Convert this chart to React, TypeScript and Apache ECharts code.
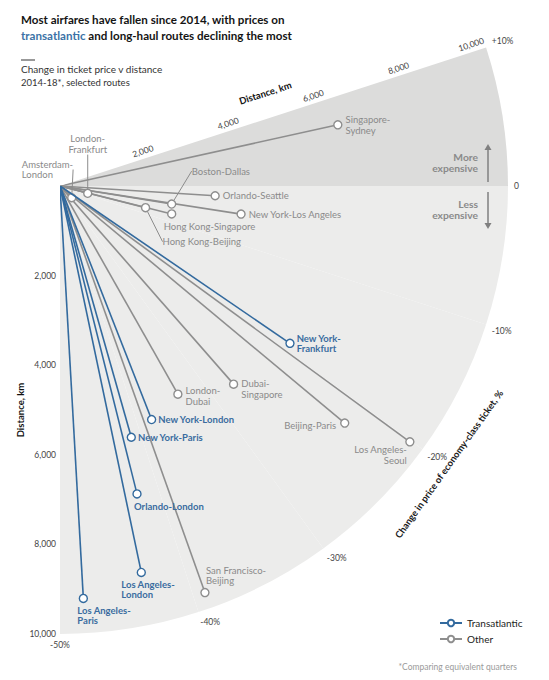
import React, { useEffect, useRef } from 'react';
import * as echarts from 'echarts';

// ---------- data ----------
const routeNames = [
  'Amsterdam-London', 'London-Frankfurt', 'Hong Kong-Beijing', 'Boston-Dallas',
  'Hong Kong-Singapore', 'Orlando-Seattle', 'New York-Los Angeles', 'Singapore-Sydney',
  'London-Dubai', 'Dubai-Singapore', 'New York-Frankfurt', 'New York-London',
  'New York-Paris', 'Orlando-London', 'Beijing-Paris', 'Los Angeles-London',
  'Los Angeles-Paris', 'San Francisco-Beijing', 'Los Angeles-Seoul',
];
const routeGroups = [
  'Other', 'Other', 'Other', 'Other',
  'Other', 'Other', 'Other', 'Other',
  'Other', 'Other', 'Transatlantic', 'Transatlantic',
  'Transatlantic', 'Transatlantic', 'Other', 'Transatlantic',
  'Transatlantic', 'Other', 'Other',
];
const distanceKm = [
  370, 640, 1970, 2525,
  2570, 3470, 4090, 6350,
  5340, 5880, 6220, 5600,
  5830, 7085, 8270, 8815,
  9220, 9635, 9675,
];
const priceChangePct = [
  -25, -8.2, -7.9, -5.1,
  -7.8, -2.0, -4.9, 6.9,
  -33.6, -27.1, -19.1, -38.1,
  -41.2, -42.2, -22.1, -43.4,
  -48.2, -39.1, -20.1,
];
const routeLabels = [
  'Amsterdam-\nLondon', 'London-\nFrankfurt', 'Hong Kong-Beijing', 'Boston-Dallas',
  'Hong Kong-Singapore', 'Orlando-Seattle', 'New York-Los Angeles', 'Singapore-\nSydney',
  'London-\nDubai', 'Dubai-\nSingapore', 'New York-\nFrankfurt', 'New York-London',
  'New York-Paris', 'Orlando-London', 'Beijing-Paris', 'Los Angeles-\nLondon',
  'Los Angeles-\nParis', 'San Francisco-\nBeijing', 'Los Angeles-\nSeoul',
];
const pctTicks = [-50, -40, -30, -20, -10, 0, 10];
const distanceTicks = [0, 2000, 4000, 6000, 8000, 10000];
const distanceGridStep = 1000;
const legendNames = ['Transatlantic', 'Other'];

// ---------- styles ----------
const FONT = 'Lato, sans-serif';
const BLUE = '#336a9e';
const BLUE_TEXT = '#3a6ca0';
const GREY = '#8e8e8e';
const GREY_TEXT = '#8a8a8a';
const CENTER = [60, 186];
const RADIUS = 448;

const fmtKm = (v: number) => (v === 0 ? '' : String(v).replace(/\B(?=(\d{3})+(?!\d))/g, ','));
const fmtPct = (v: number) => (v > 0 ? `+${v}%` : v === 0 ? '0' : `${v}%`);

// label placement per route (styling only)
const placement: Record<string, any> = {
  'Amsterdam-London': { label: { position: 'top', align: 'left', verticalAlign: 'bottom', distance: 0 }, layout: { dx: -50, dy: -13 }, line: true },
  'London-Frankfurt': { label: { position: 'top', align: 'center', distance: 5 }, layout: { dx: 0, dy: -29 }, line: true },
  'Hong Kong-Beijing': { label: { position: 'bottom', align: 'left', distance: 5 }, layout: { dx: 17, dy: 19 }, line: true },
  'Boston-Dallas': { label: { position: 'top', align: 'left', distance: 5 }, layout: { dx: 20, dy: -18 }, line: true },
  'Hong Kong-Singapore': { label: { position: 'bottom', align: 'left', distance: 3, offset: [-8, 0] } },
  'Orlando-Seattle': { label: { position: 'right', distance: 3 } },
  'New York-Los Angeles': { label: { position: 'right', distance: 3 } },
  'Singapore-Sydney': { label: { position: 'right', distance: 3 } },
  'London-Dubai': { label: { position: 'right', distance: 3, offset: [0, 2] } },
  'Dubai-Singapore': { label: { position: 'right', distance: 3, offset: [0, 5] } },
  'New York-Frankfurt': { label: { position: 'right', distance: 2 } },
  'New York-London': { label: { position: 'right', distance: 2 } },
  'New York-Paris': { label: { position: 'right', distance: 2 } },
  'Orlando-London': { label: { position: 'bottom', align: 'left', distance: 3, offset: [-3, 0] } },
  'Beijing-Paris': { label: { position: 'left', distance: 4, offset: [0, 2] } },
  'Los Angeles-London': { label: { position: 'bottom', align: 'left', distance: 2, offset: [-20, 0] } },
  'Los Angeles-Paris': { label: { position: 'bottom', align: 'left', distance: 2, offset: [-6, 0] } },
  'San Francisco-Beijing': { label: { position: 'top', align: 'left', distance: 2, offset: [1, 0] } },
  'Los Angeles-Seoul': { label: { position: 'bottom', align: 'right', distance: -2, offset: [-3, 0] } },
};

function buildOption() {
  const series = routeNames.map((name, i) => {
    const group = routeGroups[i];
    const isT = group === 'Transatlantic';
    const color = isT ? BLUE : GREY;
    const p = placement[name] || { label: { position: 'right' } };
    const s: any = {
      type: 'line',
      name: group,
      coordinateSystem: 'polar',
      polarIndex: 0,
      symbol: 'circle',
      symbolSize: 8,
      showSymbol: true,
      silent: true,
      z: isT ? 4 : 3,
      lineStyle: { color, width: 1.6 },
      itemStyle: { color: '#ffffff', borderColor: color, borderWidth: 1.4 },
      emphasis: { disabled: true },
      label: { show: false },
      data: [
        { value: [0, priceChangePct[i]], symbol: 'none', label: { show: false } },
        {
          value: [distanceKm[i], priceChangePct[i]],
          label: {
            show: true,
            formatter: routeLabels[i],
            color: isT ? BLUE_TEXT : GREY_TEXT,
            fontWeight: isT ? 'bold' : 'normal',
            fontSize: 9.5,
            lineHeight: 10.5,
            fontFamily: FONT,
            ...p.label,
          },
        },
      ],
    };
    if (p.layout) s.labelLayout = p.layout;
    if (p.line) s.labelLine = { show: true, smooth: 0.4, lineStyle: { color: '#8c8c8c', width: 1 } };
    return s;
  });

  const pctMin = pctTicks[0];
  const pctMax = pctTicks[pctTicks.length - 1];
  const pctStep = pctTicks[1] - pctTicks[0];
  const kmMax = distanceTicks[distanceTicks.length - 1];
  const kmStep = distanceTicks[1] - distanceTicks[0];
  // one colour per sector between ticks, plus a transparent one for the closing (unused) sector
  const areaColors = pctTicks.map((v, i) =>
    i === pctTicks.length - 1 ? 'rgba(0,0,0,0)' : v >= 0 ? '#dcdcdb' : '#ececeb'
  );
  const lineColors = pctTicks.map((v) => (v === 0 ? '#6e6e6e' : '#ffffff'));

  const txt = { fontFamily: FONT };

  return {
    animation: false,
    textStyle: { fontFamily: FONT },
    title: {
      left: 21,
      top: 12,
      padding: 0,
      text: 'Most airfares have fallen since 2014, with prices on\n{b|transatlantic} and long-haul routes declining the most',
      textStyle: {
        fontSize: 11.6, fontWeight: 'bold', color: '#141414', lineHeight: 15.5, fontFamily: FONT,
        rich: { b: { color: '#3b72a6', fontSize: 11.6, fontWeight: 'bold', lineHeight: 15.5, fontFamily: FONT } },
      },
    },
    legend: {
      orient: 'vertical',
      left: 434,
      top: 613,
      itemWidth: 22,
      itemHeight: 8,
      itemGap: 6,
      selectedMode: false,
      data: legendNames,
      textStyle: { fontSize: 10, color: '#222', fontFamily: FONT },
    },
    polar: [
      { center: CENTER, radius: RADIUS },
      { center: CENTER, radius: RADIUS },
    ],
    angleAxis: [
      {
        polarIndex: 0,
        type: 'value',
        min: pctMin,
        max: pctMax,
        interval: pctStep,
        startAngle: -90,
        endAngle: 18,
        clockwise: false,
        axisLine: { show: false },
        axisTick: { show: false },
        axisLabel: { formatter: fmtPct, margin: 6, fontSize: 8.5, color: '#444', fontFamily: FONT },
        splitLine: { show: true, lineStyle: { color: lineColors, width: 1 } },
        splitArea: { show: true, areaStyle: { color: areaColors } },
      },
      {
        polarIndex: 1,
        type: 'value',
        min: 0,
        max: 1,
        startAngle: 18,
        endAngle: -90,
        clockwise: true,
        show: false,
      },
    ],
    radiusAxis: [
      {
        polarIndex: 0,
        type: 'value',
        min: 0,
        max: kmMax,
        interval: distanceGridStep,
        axisLine: { show: false },
        axisTick: { show: false },
        axisLabel: { show: false },
        splitLine: { show: true, lineStyle: { color: '#ffffff', width: 1 } },
      },
      {
        polarIndex: 1,
        type: 'value',
        min: 0,
        max: kmMax,
        interval: kmStep,
        axisLine: { show: false },
        axisTick: { show: false },
        splitLine: { show: false },
        axisLabel: { rotate: 18, margin: 3, formatter: fmtKm, fontSize: 8.5, color: '#444', fontFamily: FONT, alignMaxLabel: 'right' },
        name: 'Distance, km',
        nameLocation: 'middle',
        nameGap: -30,
        nameTextStyle: { fontSize: 9.5, fontWeight: 'bold', color: '#111', fontFamily: FONT },
      },
    ],
    grid: { left: CENTER[0], top: CENTER[1], width: 10, height: RADIUS },
    xAxis: { type: 'value', show: false },
    yAxis: {
      type: 'value',
      min: 0,
      max: kmMax,
      interval: kmStep,
      inverse: true,
      axisLine: { show: false },
      axisTick: { show: false },
      splitLine: { show: false },
      axisLabel: { formatter: fmtKm, margin: 4, fontSize: 8.5, color: '#444', fontFamily: FONT },
      name: 'Distance, km',
      nameLocation: 'middle',
      nameGap: 31,
      nameRotate: 90,
      nameTextStyle: { fontSize: 9.5, fontWeight: 'bold', color: '#111', fontFamily: FONT },
    },
    series,
    graphic: [
      { type: 'line', z: 100, shape: { x1: 21, y1: 60, x2: 35, y2: 60 }, style: { stroke: '#555', lineWidth: 1.2 } },
      { type: 'text', z: 100, x: 21, y: 69, style: { ...txt, text: 'Change in ticket price v distance', fontSize: 10, fill: '#333', verticalAlign: 'middle' } },
      { type: 'text', z: 100, x: 21, y: 82, style: { ...txt, text: '2014-18*, selected routes', fontSize: 9.5, fill: '#333', verticalAlign: 'middle' } },
      { type: 'text', z: 100, x: 478, y: 162.5, style: { ...txt, text: 'More\nexpensive', align: 'right', verticalAlign: 'middle', lineHeight: 11.5, fontWeight: 'bold', fill: '#8a8a8a', fontSize: 10.3 } },
      { type: 'text', z: 100, x: 478, y: 209.5, style: { ...txt, text: 'Less\nexpensive', align: 'right', verticalAlign: 'middle', lineHeight: 11.5, fontWeight: 'bold', fill: '#8a8a8a', fontSize: 10.3 } },
      { type: 'line', z: 100, shape: { x1: 488, y1: 182, x2: 488, y2: 149 }, style: { stroke: '#808080', lineWidth: 1.5 } },
      { type: 'polygon', z: 100, shape: { points: [[484.5, 150], [488, 144], [491.5, 150]] }, style: { fill: '#808080' } },
      { type: 'line', z: 100, shape: { x1: 488, y1: 192, x2: 488, y2: 224 }, style: { stroke: '#808080', lineWidth: 1.5 } },
      { type: 'polygon', z: 100, shape: { points: [[484.5, 223], [488, 229], [491.5, 223]] }, style: { fill: '#808080' } },
      {
        type: 'text', z: 100, x: 449, y: 464, rotation: (54.6 * Math.PI) / 180,
        style: { ...txt, text: 'Change in price of economy-class ticket, %', align: 'center', verticalAlign: 'middle', fontSize: 9.5, fontWeight: 'bold', fill: '#1a1a1a' },
      },
      { type: 'text', z: 100, x: 517, y: 667, style: { ...txt, text: '*Comparing equivalent quarters', align: 'right', verticalAlign: 'middle', fontSize: 8.5, fill: '#9a9a9a' } },
    ],
  };
}

export default function App() {
  const ref = useRef<HTMLDivElement>(null);
  useEffect(() => {
    if (!ref.current) return;
    const chart = echarts.init(ref.current, null, { renderer: 'svg' });
    chart.setOption(buildOption() as any);
    return () => chart.dispose();
  }, []);
  return <div ref={ref} style={{ position: 'absolute', left: 0, top: 0, width: 549, height: 680 }} />;
}
